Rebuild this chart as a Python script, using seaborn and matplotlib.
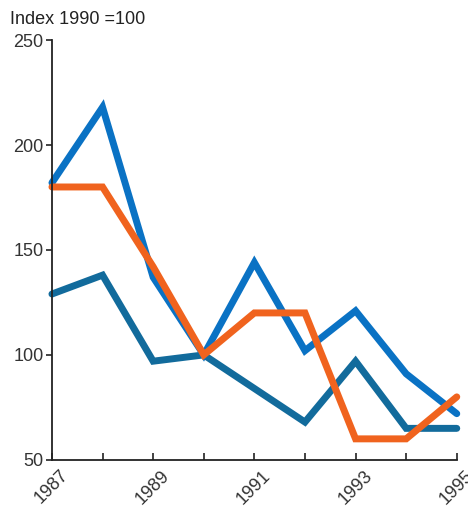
import numpy as np
import pandas as pd
import matplotlib
matplotlib.use("Agg")
import matplotlib.pyplot as plt
import matplotlib.transforms as mtransforms
import seaborn as sns

years = [1987, 1988, 1989, 1990, 1991, 1992, 1993, 1994, 1995]
series_a = [182, 218, 137, 100, 144, 102, 121, 91, 72]
series_b = [129, 138, 97, 100, 84, 68, 97, 65, 65]
series_c = [180, 180, 142, 100, 120, 120, 60, 60, 80]
tick_years = [1987, 1989, 1991, 1993, 1995]
y_ticks = [50, 100, 150, 200, 250]

df = pd.DataFrame({
    "year": years * 3,
    "value": series_a + series_b + series_c,
    "series": ["A"] * 9 + ["B"] * 9 + ["C"] * 9,
})

sns.set_style("white")
plt.rcParams["font.family"] = ["Liberation Sans", "DejaVu Sans"]

fig = plt.figure(figsize=(4.68, 5.07), dpi=100)
ax = fig.add_axes([0.111, 0.093, 0.865, 0.828])

palette = {"A": "#0a72c4", "B": "#126b9c", "C": "#f0631e"}
for key in ["B", "A", "C"]:
    sns.lineplot(data=df[df.series == key], x="year", y="value", color=palette[key],
                 lw=5, ax=ax, clip_on=False, solid_joinstyle="miter")

ax.set_xlim(1987, 1995)
ax.set_ylim(50, 250)
ax.set_xticks(years)
ax.set_xticklabels([])
# year labels sit a little right of their ticks in the original
offset = mtransforms.ScaledTranslation(8 / 100, -7 / 100, fig.dpi_scale_trans)
for yr in tick_years:
    ax.text(yr, 0, str(yr), transform=ax.get_xaxis_transform() + offset,
            rotation=45, ha="right", va="top", rotation_mode="anchor",
            fontsize=13, color="#333333", clip_on=False)
ax.set_yticks(y_ticks)
ax.set_yticklabels([str(v) for v in y_ticks], fontsize=13, color="#333333")
ax.tick_params(axis="x", bottom=True, direction="in", length=5, width=1.2,
               color="#222222", pad=4)
ax.tick_params(axis="y", left=True, direction="out", length=4, width=1.2,
               color="#222222", pad=2)
ax.set_xlabel("")
ax.set_ylabel("")
for s in ["top", "right"]:
    ax.spines[s].set_visible(False)
for s in ["left", "bottom"]:
    ax.spines[s].set_color("#222222")
    ax.spines[s].set_linewidth(1.3)

fig.text(0.021, 0.962, "Index 1990 =100", fontsize=13, color="#222222", va="center")

fig.savefig("out.png", dpi=100)
